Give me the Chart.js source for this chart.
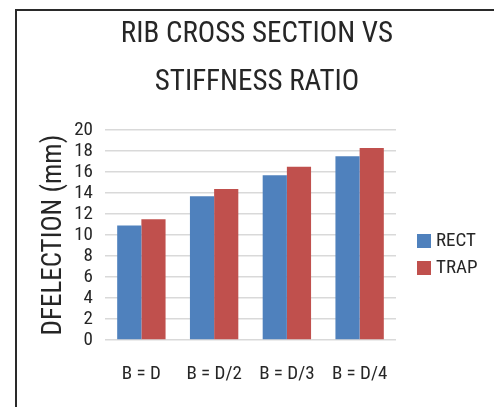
<!DOCTYPE html>
<html>
<head>
<meta charset="utf-8">
<script src="https://cdn.jsdelivr.net/npm/chart.js@4.4.1/dist/chart.umd.min.js"></script>
<style>
  html, body { margin: 0; padding: 0; background: #ffffff; overflow: hidden; }
  #wrap { position: relative; width: 494px; height: 407px; }
  #frame {
    position: absolute; left: 15px; top: 9px; width: 520px; height: 440px;
    border: 2px solid #2a2a2a; box-sizing: border-box;
  }
  canvas { position: absolute; left: 0; top: 0; }
</style>
</head>
<body>
<div id="wrap">
  <div id="frame"></div>
  <canvas id="chart" width="494" height="407"></canvas>
</div>
<script>
// Rib cross section ratios and mid-span deflection (mm)
const categories = ['B = D', 'B = D/2', 'B = D/3', 'B = D/4'];
const seriesNames = ['RECT', 'TRAP'];
const rectDeflection = [10.9, 13.7, 15.7, 17.5];
const trapDeflection = [11.5, 14.4, 16.5, 18.3];
const yTicks = [0, 2, 4, 6, 8, 10, 12, 14, 16, 18, 20];
const titleLines = ['RIB CROSS SECTION VS', 'STIFFNESS RATIO'];
const yAxisTitle = 'DFELECTION (mm)';

const FONT = '"Roboto Condensed", "DejaVu Sans Condensed", sans-serif';
const TEXT = '#262626';

// Legend drawn to the right of the plot, one swatch per dataset
const sideLegend = {
  id: 'sideLegend',
  afterDraw(chart, args, opts) {
    const ctx = chart.ctx;
    const area = chart.chartArea;
    ctx.save();
    ctx.font = opts.fontSize + 'px ' + FONT;
    ctx.textBaseline = 'middle';
    ctx.textAlign = 'left';
    chart.data.datasets.forEach((ds, i) => {
      const cy = opts.top + i * opts.rowGap;
      const bx = area.right + opts.offsetX;
      ctx.fillStyle = ds.backgroundColor;
      ctx.fillRect(bx, cy - opts.box / 2, opts.box, opts.box);
      ctx.fillStyle = TEXT;
      ctx.fillText(ds.label, bx + opts.box + 5, cy);
    });
    ctx.restore();
  }
};

new Chart(document.getElementById('chart'), {
  type: 'bar',
  data: {
    labels: categories,
    datasets: [
      { label: seriesNames[0], data: rectDeflection, backgroundColor: '#4f81bd' },
      { label: seriesNames[1], data: trapDeflection, backgroundColor: '#c0504d' }
    ]
  },
  options: {
    responsive: false,
    animation: false,
    layout: { padding: { left: 20, right: 0, top: 0, bottom: 0 } },
    datasets: { bar: { categoryPercentage: 0.665, barPercentage: 1.0 } },
    plugins: {
      legend: { display: false },
      tooltip: { enabled: false },
      title: {
        display: true,
        text: titleLines,
        color: TEXT,
        font: { family: FONT, size: 29, weight: 'normal', lineHeight: 1.64 },
        padding: { top: 11, bottom: 24 }
      },
      sideLegend: { top: 241, rowGap: 27, box: 14, offsetX: 21, fontSize: 19 }
    },
    scales: {
      x: {
        grid: { display: false },
        border: { display: false },
        ticks: { color: TEXT, font: { family: FONT, size: 19 }, padding: 15, maxRotation: 0 },
        afterFit(scale) { scale.height = 67; }
      },
      y: {
        min: 0,
        max: 20,
        afterBuildTicks(scale) { scale.ticks = yTicks.map(v => ({ value: v })); },
        grid: { color: '#d9d9d9', lineWidth: 1.6, drawTicks: false },
        border: { display: false },
        ticks: { color: TEXT, font: { family: FONT, size: 19 }, padding: 12, autoSkip: false },
        title: {
          display: true,
          text: yAxisTitle,
          color: TEXT,
          font: { family: FONT, size: 27 },
          padding: { top: 18, bottom: 0 }
        },
        afterFit(scale) { scale.width = 85; }
      },
      // empty band on the right that holds the legend swatches
      side: {
        type: 'linear',
        position: 'right',
        grid: { display: false },
        border: { display: false },
        ticks: { display: false },
        afterFit(scale) { scale.width = 98; }
      }
    }
  },
  plugins: [sideLegend]
});
</script>
</body>
</html>
